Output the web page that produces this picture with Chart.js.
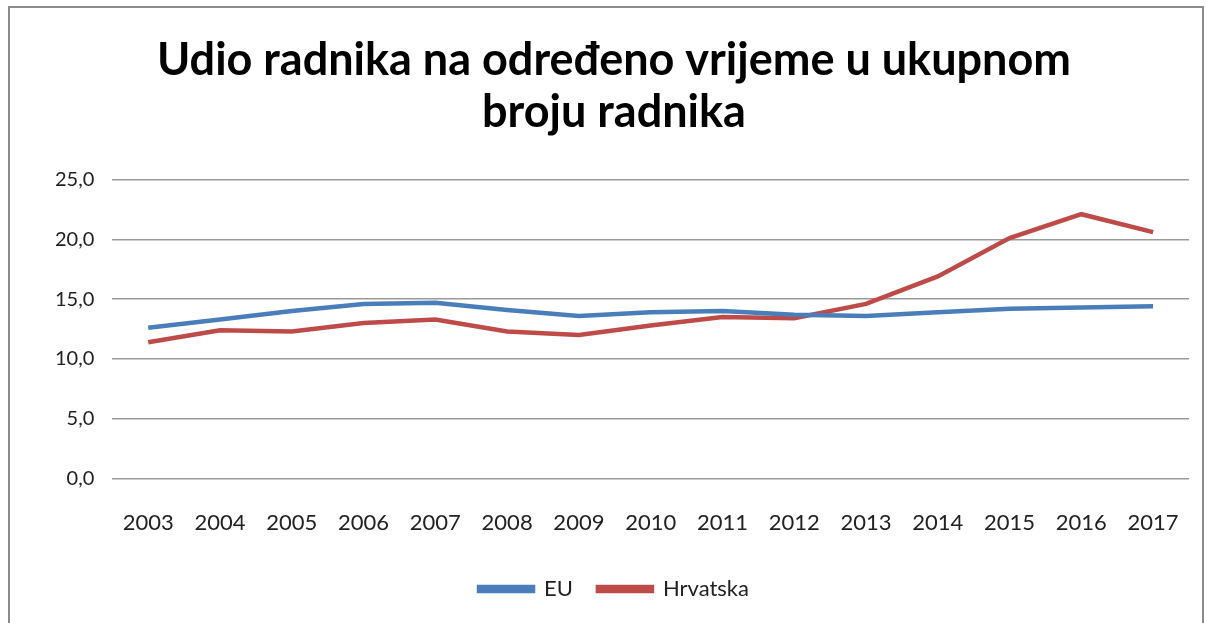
<!DOCTYPE html>
<html>
<head>
<meta charset="utf-8">
<script src="https://cdn.jsdelivr.net/npm/chart.js@4/dist/chart.umd.min.js"></script>
<style>
  html, body { margin: 0; padding: 0; background: #fff; overflow: hidden; }
  #frame {
    position: absolute; left: 8px; top: 6px;
    width: 1196px; height: 640px;
    border: 2px solid #8c8c8c; box-sizing: border-box;
  }
</style>
</head>
<body>
<div id="frame"><canvas id="chart"></canvas></div>
<script>
// Data
const years = ['2003','2004','2005','2006','2007','2008','2009','2010','2011','2012','2013','2014','2015','2016','2017'];
const euValues = [12.6, 13.3, 14.0, 14.6, 14.7, 14.1, 13.6, 13.9, 14.0, 13.7, 13.6, 13.9, 14.2, 14.3, 14.4];
const hrValues = [11.4, 12.4, 12.3, 13.0, 13.3, 12.3, 12.0, 12.8, 13.5, 13.4, 14.6, 16.9, 20.1, 22.1, 20.6];
const yTicks = [0, 5, 10, 15, 20, 25];

const FONT = 'Lato, "Open Sans", sans-serif';

// comma as decimal separator, one decimal
const fmtTick = v => v.toFixed(1).replace('.', ',');

new Chart(document.getElementById('chart'), {
  type: 'line',
  data: {
    labels: years,
    datasets: [
      { label: 'EU', data: euValues, borderColor: '#4a7ebb', backgroundColor: '#4a7ebb',
        borderWidth: 4.5, pointRadius: 0, tension: 0 },
      { label: 'Hrvatska', data: hrValues, borderColor: '#be4b48', backgroundColor: '#be4b48',
        borderWidth: 4.5, pointRadius: 0, tension: 0 },
    ]
  },
  options: {
    responsive: true,
    maintainAspectRatio: false,
    animation: false,
    layout: { padding: { left: 27, right: 11, top: 0, bottom: 34 } },
    plugins: {
      title: {
        display: true,
        text: ['Udio radnika na određeno vrijeme u ukupnom', 'broju radnika'],
        color: '#000',
        font: { family: FONT, size: 45, weight: 'bold', lineHeight: 1.15 },
        padding: { top: 27, bottom: 41 }
      },
      legend: {
        position: 'bottom',
        labels: {
          color: '#222',
          font: { family: FONT, size: 22 },
          boxWidth: 54, boxHeight: 4, padding: 25
        }
      },
      tooltip: { enabled: false }
    },
    scales: {
      x: {
        offset: true,
        grid: { display: false },
        border: { display: false },
        ticks: { color: '#222', font: { family: FONT, size: 22 }, padding: 23, maxRotation: 0 },
        afterFit: axis => { axis.height -= 6; }
      },
      y: {
        min: 0, max: 25,
        afterBuildTicks: axis => { axis.ticks = yTicks.map(v => ({ value: v })); },
        grid: { color: '#9a9a9a', lineWidth: 1.5, drawTicks: false },
        border: { display: false },
        ticks: { color: '#222', font: { family: FONT, size: 20 }, padding: 18, callback: fmtTick }
      }
    }
  }
});
</script>
</body>
</html>
